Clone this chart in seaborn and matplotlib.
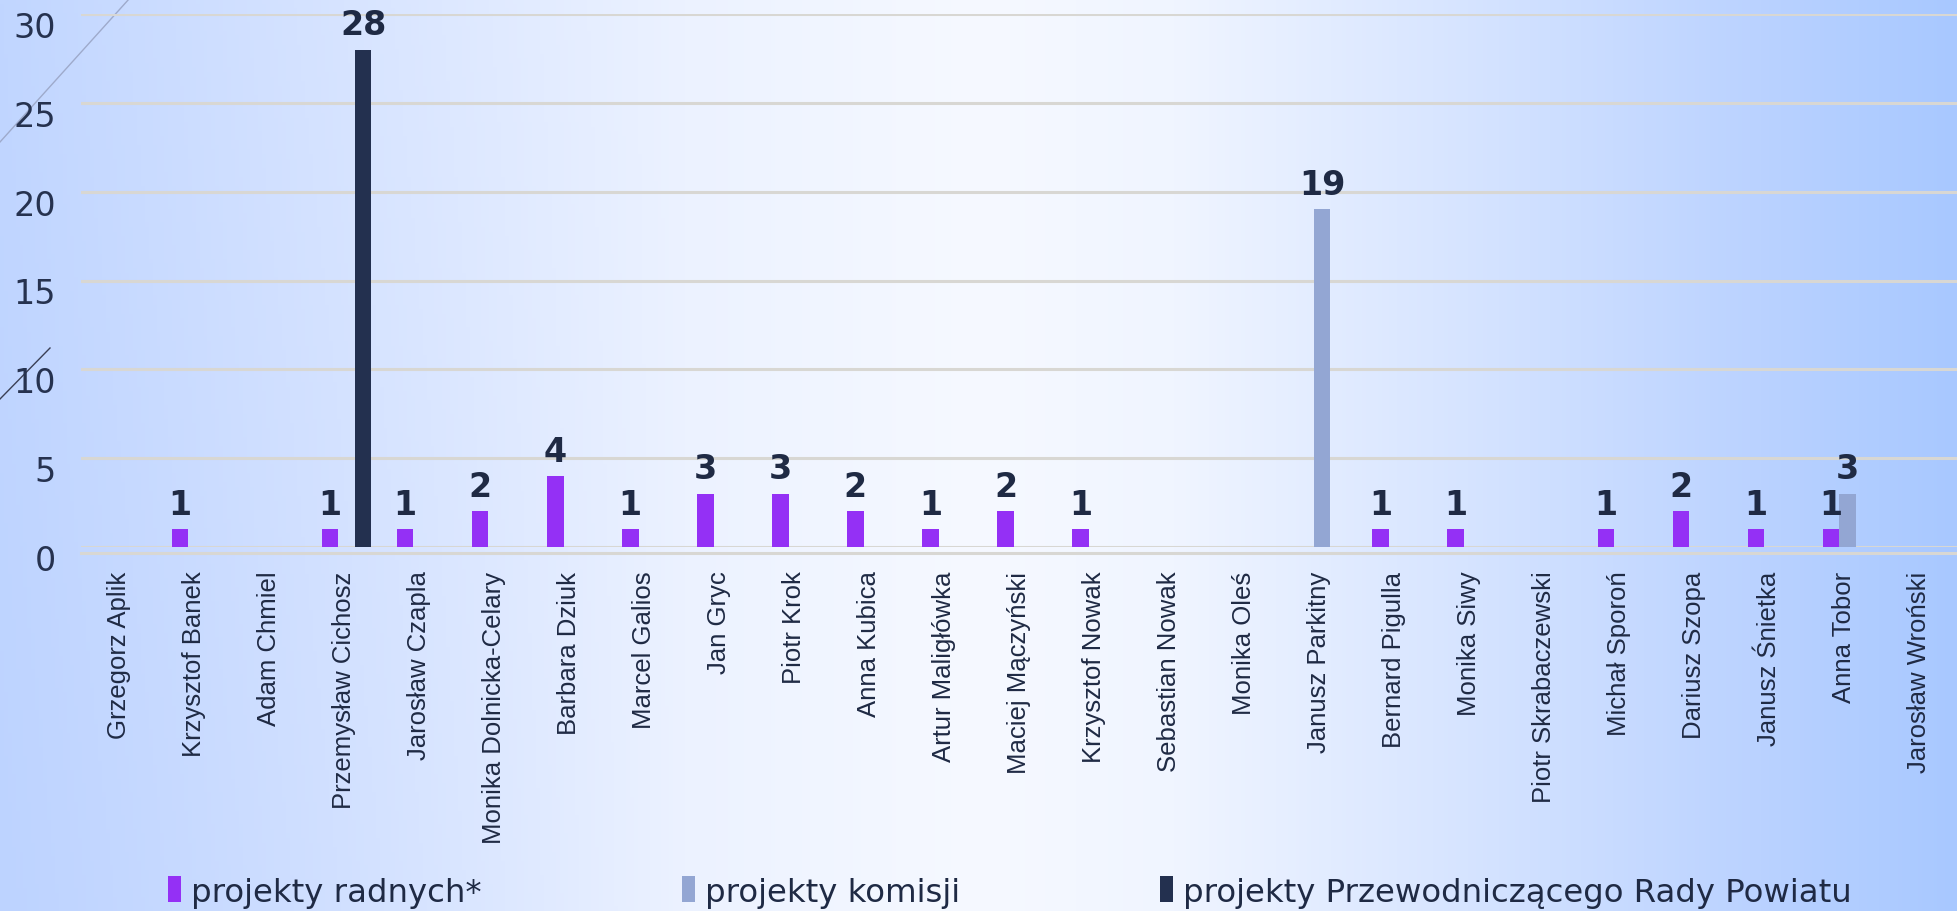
import matplotlib
matplotlib.use("Agg")
import matplotlib.pyplot as plt
import matplotlib.transforms as mtransforms
from matplotlib.patches import Patch
import numpy as np
import pandas as pd
import seaborn as sns

# Dane z wykresu
radni = [
    "Grzegorz Aplik", "Krzysztof Banek", "Adam Chmiel", "Przemysław Cichosz",
    "Jarosław Czapla", "Monika Dolnicka-Celary", "Barbara Dziuk", "Marcel Galios",
    "Jan Gryc", "Piotr Krok", "Anna Kubica", "Artur Maligłówka", "Maciej Mączyński",
    "Krzysztof Nowak", "Sebastian Nowak", "Monika Oleś", "Janusz Parkitny",
    "Bernard Pigulla", "Monika Siwy", "Piotr Skrabaczewski", "Michał Sporoń",
    "Dariusz Szopa", "Janusz Śnietka", "Anna Tobor", "Jarosław Wroński",
]
projekty_radnych = [0, 1, 0, 1, 1, 2, 4, 1, 3, 3, 2, 1, 2, 1, 0, 0, 0, 1, 1, 0, 1, 2, 1, 1, 0]
projekty_komisji = [0] * 16 + [19] + [0] * 6 + [3, 0]
projekty_przewodniczacego = [0, 0, 0, 28] + [0] * 21
serie = ["projekty radnych*", "projekty komisji", "projekty Przewodniczącego Rady Powiatu"]
kolory = ["#9430f5", "#93a6d3", "#23304f"]
y_ticks = [0, 5, 10, 15, 20, 25, 30]

df = pd.DataFrame({
    "radny": radni * 3,
    "seria": [s for s in serie for _ in radni],
    "liczba": projekty_radnych + projekty_komisji + projekty_przewodniczacego,
})

W, H = 1957, 912
fig = plt.figure(figsize=(W / 100, H / 100), dpi=100)

# Gradient tla
bg = fig.add_axes([0, 0, 1, 1], zorder=-1)
xs = np.linspace(0, 1, 500)
ys = np.linspace(0, 1, 200)
kx = [0.0, 0.15, 0.35, 0.5, 0.6, 0.75, 0.9, 1.0]
kc = np.array([
    [193, 214, 255], [212, 226, 255], [236, 242, 255], [246, 249, 255],
    [240, 245, 255], [214, 228, 255], [186, 210, 255], [168, 200, 255],
]) / 255
rows = np.stack([np.interp(xs, kx, kc[:, i]) for i in range(3)], axis=-1)
img = np.repeat(rows[None, :, :], len(ys), axis=0)
# lekko ciemniej w lewym dolnym rogu
wgt = (np.clip(1 - xs / 0.35, 0, 1)[None, :] * ys[:, None] * 0.35)[..., None]
img = img * (1 - wgt) + np.array([182, 206, 255]) / 255 * wgt
bg.imshow(img, aspect="auto", extent=[0, 1, 1, 0], origin="upper")
bg.set_xlim(0, 1)
bg.set_ylim(1, 0)
bg.axis("off")

# Linie "3D" w lewym gornym rogu
bg.plot([0, 129 / W], [143 / H, 0], color="#9eaacb", lw=1)
bg.plot([0, 50 / W], [400 / H, 349 / H], color="#3a3f55", lw=1)

ax = fig.add_axes([81 / W, 1 - 548 / H, 1 - 81 / W, (548 - 15) / H])
ax.patch.set_alpha(0)

sns.barplot(
    data=df, x="radny", y="liczba", hue="seria", hue_order=serie,
    palette=kolory, saturation=1, width=0.66, errorbar=None,
    linewidth=0, legend=False, ax=ax, zorder=3,
)
for p in ax.patches:
    p.set_x(p.get_x() + 0.04)

for cont in ax.containers:
    etykiety = [str(int(v)) if v > 0 else "" for v in cont.datavalues]
    ax.bar_label(cont, labels=etykiety, padding=6, fontsize=24,
                 fontweight="bold", color="#1f2a44", family="DejaVu Sans")

ax.set_xlim(-0.5, len(radni) - 0.5)
ax.set_ylim(0, 30)
ax.set_yticks(y_ticks)
ax.yaxis.grid(True, color="#d8d7d3", lw=2.2, zorder=0)
ax.set_axisbelow(True)
ax.plot([0, 1], [-0.012, -0.012], transform=ax.transAxes, color="#d8d7d3",
        lw=2.2, clip_on=False)
for s in ax.spines.values():
    s.set_visible(False)
ax.set_xlabel("")
ax.set_ylabel("")

ax.tick_params(axis="y", length=0, pad=18, labelsize=24, labelcolor="#26324f")
offset = mtransforms.ScaledTranslation(0, -0.10, fig.dpi_scale_trans)
for lab in ax.get_yticklabels():
    lab.set_family("DejaVu Sans")
    lab.set_transform(lab.get_transform() + offset)

ax.tick_params(axis="x", length=0, pad=17)
ax.set_xticks(range(len(radni)))
ax.set_xticklabels(radni, rotation=90, ha="center", va="top",
                   fontsize=18.5, color="#1f2a44", family="Liberation Sans")

uchwyty = [Patch(facecolor=c, edgecolor="none") for c in kolory]
leg = fig.legend(
    uchwyty, serie, loc="center", bbox_to_anchor=(0.516, 1 - 893 / H), ncol=3,
    frameon=False, handlelength=0.4, handleheight=0.85,
    handletextpad=0.3, columnspacing=6.2,
    prop={"family": "DejaVu Sans", "size": 23.3},
)
for t in leg.get_texts():
    t.set_color("#1f2a44")

fig.savefig("out.png", dpi=100)
